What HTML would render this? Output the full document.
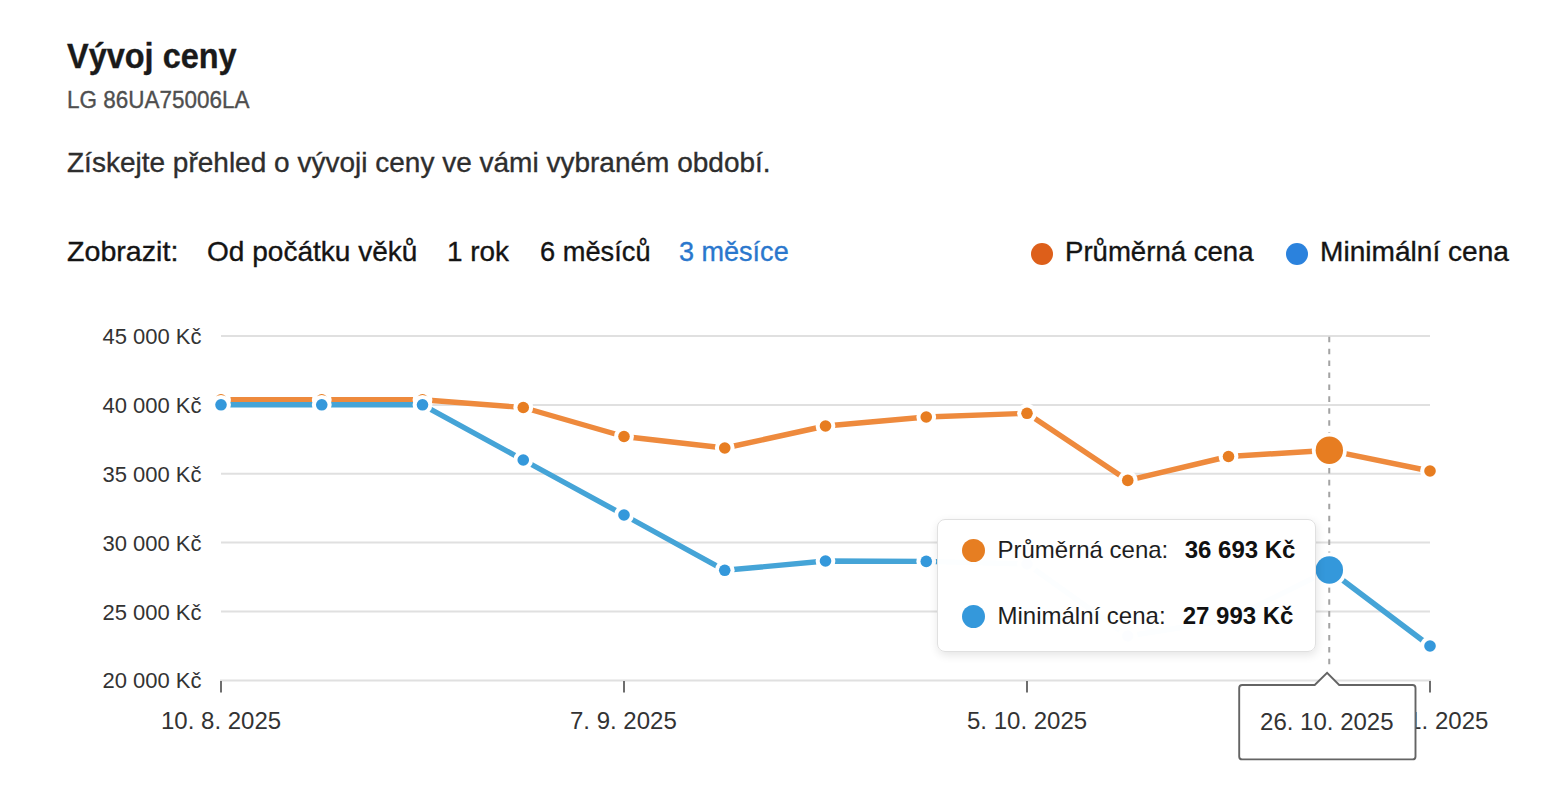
<!DOCTYPE html>
<html lang="cs"><head><meta charset="utf-8"><title>Vývoj ceny</title>
<style>
html,body{margin:0;padding:0;background:#fff;}
body{width:1544px;height:790px;position:relative;overflow:hidden;font-family:"Liberation Sans",sans-serif;}
.t{position:absolute;white-space:nowrap;line-height:1;transform-origin:0 0;-webkit-text-stroke:0.35px currentColor;}
.h{font-weight:bold;color:#1a1a1a;}
.s{color:#4f4f4f;}
.d{color:#2e2e2e;}
.f{color:#141414;}
.a{color:#2a77cd;}
.dot{position:absolute;width:22px;height:22px;border-radius:50%;top:243px;}
.ya{position:absolute;font-size:22px;color:#333;text-align:right;width:201.5px;left:0;line-height:1;}
.xa{position:absolute;font-size:24px;color:#333;line-height:1;white-space:nowrap;top:709px;}
#tip{position:absolute;left:937px;top:519px;width:377px;height:131px;background:rgba(255,255,255,0.985);border:1.5px solid #e0e0e0;border-radius:8px;box-shadow:1px 3px 10px rgba(0,0,0,0.11);}
.tr{position:absolute;left:59.5px;font-size:24px;color:#1e1e1e;line-height:1;white-space:nowrap;}
.tr b{position:absolute;font-weight:bold;color:#111;}
.td{position:absolute;width:23px;height:23px;border-radius:50%;left:24.3px;}
</style></head><body>
<div class="t h" id="title" style="left:66.8px;top:37.7px;font-size:35px;transform:scaleX(0.9278);">Vývoj ceny</div>
<div class="t s" id="sub" style="left:66.7px;top:88px;font-size:24px;transform:scaleX(0.937);">LG 86UA75006LA</div>
<div class="t d" id="desc" style="left:66.8px;top:149px;font-size:28px;transform:scaleX(1.0003);">Získejte přehled o vývoji ceny ve vámi vybraném období.</div>
<div class="t f" id="zobr" style="left:67.02px;top:238px;font-size:28px;transform:scaleX(1.0224);">Zobrazit:</div>
<div class="t f" id="od" style="left:207.49px;top:238px;font-size:28px;transform:scaleX(1.0015);">Od počátku věků</div>
<div class="t f" id="rok" style="left:447.2px;top:238px;font-size:28px;transform:scaleX(0.9967);">1 rok</div>
<div class="t f" id="mes6" style="left:539.73px;top:238px;font-size:28px;transform:scaleX(0.973);">6 měsíců</div>
<div class="t a" id="mes3" style="left:679.4px;top:238px;font-size:28px;transform:scaleX(0.9654);">3 měsíce</div>
<div class="dot" style="left:1031px;background:#dd5f1a"></div>
<div class="t f" id="leg1" style="left:1064.92px;top:238px;font-size:28px;transform:scaleX(0.9846);">Průměrná cena</div>
<div class="dot" style="left:1286px;background:#2b82dd"></div>
<div class="t f" id="leg2" style="left:1319.5px;top:238px;font-size:28px;transform:scaleX(1.0033);">Minimální cena</div>
<svg width="1544" height="790" style="position:absolute;left:0;top:0">
<line x1="221" y1="336" x2="1430" y2="336" stroke="#e0e0e0" stroke-width="2"/>
<line x1="221" y1="404.9" x2="1430" y2="404.9" stroke="#e0e0e0" stroke-width="2"/>
<line x1="221" y1="473.8" x2="1430" y2="473.8" stroke="#e0e0e0" stroke-width="2"/>
<line x1="221" y1="542.6" x2="1430" y2="542.6" stroke="#e0e0e0" stroke-width="2"/>
<line x1="221" y1="611.5" x2="1430" y2="611.5" stroke="#e0e0e0" stroke-width="2"/>
<line x1="220" y1="680.4" x2="1431" y2="680.4" stroke="#e0e0e0" stroke-width="2"/>
<line x1="221.00" y1="681" x2="221.00" y2="692.5" stroke="#6e6e6e" stroke-width="2"/>
<line x1="624.00" y1="681" x2="624.00" y2="692.5" stroke="#6e6e6e" stroke-width="2"/>
<line x1="1027.00" y1="681" x2="1027.00" y2="692.5" stroke="#6e6e6e" stroke-width="2"/>
<line x1="1430.00" y1="681" x2="1430.00" y2="692.5" stroke="#6e6e6e" stroke-width="2"/>
<line x1="1329.25" y1="336.7" x2="1329.25" y2="666" stroke="#a3a3a3" stroke-width="2" stroke-dasharray="5.55 6.38"/>
<polyline points="221.00,399.8 321.75,399.8 422.50,399.8 523.25,407.5 624.00,436.5 724.75,448.0 825.50,426.0 926.25,417.0 1027.00,413.3 1127.75,480.4 1228.50,456.5 1329.25,450.3 1430.00,471.0" fill="none" stroke="#ee8a3d" stroke-width="5.4" stroke-linejoin="round"/>
<circle cx="221.00" cy="399.8" r="9.9" fill="#fff"/>
<circle cx="221.00" cy="399.8" r="5.8" fill="#e77d21"/>
<circle cx="321.75" cy="399.8" r="9.9" fill="#fff"/>
<circle cx="321.75" cy="399.8" r="5.8" fill="#e77d21"/>
<circle cx="422.50" cy="399.8" r="9.9" fill="#fff"/>
<circle cx="422.50" cy="399.8" r="5.8" fill="#e77d21"/>
<circle cx="523.25" cy="407.5" r="9.9" fill="#fff"/>
<circle cx="523.25" cy="407.5" r="5.8" fill="#e77d21"/>
<circle cx="624.00" cy="436.5" r="9.9" fill="#fff"/>
<circle cx="624.00" cy="436.5" r="5.8" fill="#e77d21"/>
<circle cx="724.75" cy="448" r="9.9" fill="#fff"/>
<circle cx="724.75" cy="448" r="5.8" fill="#e77d21"/>
<circle cx="825.50" cy="426" r="9.9" fill="#fff"/>
<circle cx="825.50" cy="426" r="5.8" fill="#e77d21"/>
<circle cx="926.25" cy="417" r="9.9" fill="#fff"/>
<circle cx="926.25" cy="417" r="5.8" fill="#e77d21"/>
<circle cx="1027.00" cy="413.3" r="9.9" fill="#fff"/>
<circle cx="1027.00" cy="413.3" r="5.8" fill="#e77d21"/>
<circle cx="1127.75" cy="480.4" r="9.9" fill="#fff"/>
<circle cx="1127.75" cy="480.4" r="5.8" fill="#e77d21"/>
<circle cx="1228.50" cy="456.5" r="9.9" fill="#fff"/>
<circle cx="1228.50" cy="456.5" r="5.8" fill="#e77d21"/>
<circle cx="1329.35" cy="450.3" r="17.5" fill="#fff"/>
<circle cx="1329.35" cy="450.3" r="13.7" fill="#e77d21"/>
<circle cx="1430.00" cy="471" r="9.9" fill="#fff"/>
<circle cx="1430.00" cy="471" r="5.8" fill="#e77d21"/>
<polyline points="221.00,404.8 321.75,404.8 422.50,404.8 523.25,460.0 624.00,515.0 724.75,570.3 825.50,561.0 926.25,561.4 1027.00,564.0 1127.75,636.0 1228.50,620.0 1329.25,570.0 1430.00,646.0" fill="none" stroke="#45a4d7" stroke-width="5.4" stroke-linejoin="round"/>
<circle cx="221.00" cy="404.8" r="9.9" fill="#fff"/>
<circle cx="221.00" cy="404.8" r="5.8" fill="#3498db"/>
<circle cx="321.75" cy="404.8" r="9.9" fill="#fff"/>
<circle cx="321.75" cy="404.8" r="5.8" fill="#3498db"/>
<circle cx="422.50" cy="404.8" r="9.9" fill="#fff"/>
<circle cx="422.50" cy="404.8" r="5.8" fill="#3498db"/>
<circle cx="523.25" cy="460" r="9.9" fill="#fff"/>
<circle cx="523.25" cy="460" r="5.8" fill="#3498db"/>
<circle cx="624.00" cy="515" r="9.9" fill="#fff"/>
<circle cx="624.00" cy="515" r="5.8" fill="#3498db"/>
<circle cx="724.75" cy="570.3" r="9.9" fill="#fff"/>
<circle cx="724.75" cy="570.3" r="5.8" fill="#3498db"/>
<circle cx="825.50" cy="561" r="9.9" fill="#fff"/>
<circle cx="825.50" cy="561" r="5.8" fill="#3498db"/>
<circle cx="926.25" cy="561.4" r="9.9" fill="#fff"/>
<circle cx="926.25" cy="561.4" r="5.8" fill="#3498db"/>
<circle cx="1027.00" cy="564" r="9.9" fill="#fff"/>
<circle cx="1027.00" cy="564" r="5.8" fill="#3498db"/>
<circle cx="1127.75" cy="636" r="9.9" fill="#fff"/>
<circle cx="1127.75" cy="636" r="5.8" fill="#3498db"/>
<circle cx="1228.50" cy="620" r="9.9" fill="#fff"/>
<circle cx="1228.50" cy="620" r="5.8" fill="#3498db"/>
<circle cx="1329.35" cy="570" r="17.5" fill="#fff"/>
<circle cx="1329.35" cy="570" r="13.7" fill="#3498db"/>
<circle cx="1430.00" cy="646" r="9.9" fill="#fff"/>
<circle cx="1430.00" cy="646" r="5.8" fill="#3498db"/>

</svg>
<div class="ya" style="top:326px">45 000 Kč</div>
<div class="ya" style="top:395px">40 000 Kč</div>
<div class="ya" style="top:464px">35 000 Kč</div>
<div class="ya" style="top:533px">30 000 Kč</div>
<div class="ya" style="top:602px">25 000 Kč</div>
<div class="ya" style="top:670px">20 000 Kč</div>
<div class="xa" style="left:161px">10. 8. 2025</div>
<div class="xa" style="left:570px">7. 9. 2025</div>
<div class="xa" style="left:967px">5. 10. 2025</div>
<div class="xa" style="left:1370px">2. 11. 2025</div>
<div id="tip">
 <div class="td" style="top:18.5px;background:#e67e22"></div>
 <div class="tr" style="top:18px">Průměrná cena:<b style="left:187.2px">36 693 Kč</b></div>
 <div class="td" style="top:84.6px;background:#3498db"></div>
 <div class="tr" style="top:84px">Minimální cena:<b style="left:185.2px">27 993 Kč</b></div>
</div>
<svg width="200" height="100" style="position:absolute;left:1230px;top:665px">
<path d="M12.2 20 L84.7 20 L97.1 7.8 L109.2 20 L182.5 20 Q185.5 20 185.5 23 L185.5 91.4 Q185.5 94.4 182.5 94.4 L12.2 94.4 Q9.2 94.4 9.2 91.4 L9.2 23 Q9.2 20 12.2 20 Z" fill="#fff" stroke="#646464" stroke-width="1.9"/>
<text x="96.8" y="65" text-anchor="middle" font-family="Liberation Sans" font-size="24" fill="#333">26. 10. 2025</text>
</svg>
</body></html>
